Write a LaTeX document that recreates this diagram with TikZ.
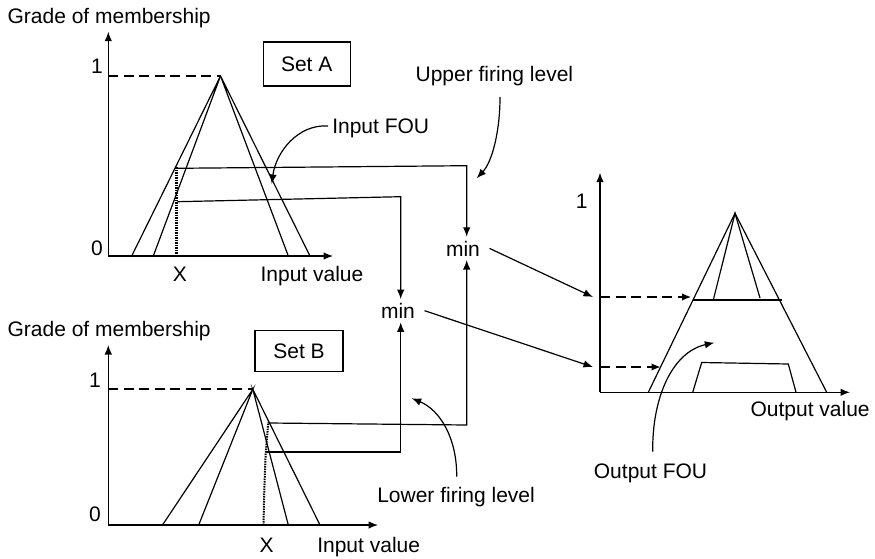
\documentclass[tikz,border=0pt]{standalone}
\usepackage{fontspec}
\setmainfont{Liberation Sans}
\usetikzlibrary{arrows.meta}
\begin{document}
\begin{tikzpicture}[x=1pt,y=-1pt,line width=1.2pt,
  every node/.style={font=\fontsize{21}{25}\selectfont,inner sep=0pt},
  tip/.style={-{Latex[length=9.5pt,width=7.5pt]}},
  lvl/.style={dash pattern=on 10pt off 5.5pt,line width=2.2pt},
  xmark/.style={dash pattern=on 1.5pt off 1pt,line width=2.6pt},
  setbox/.style={draw,line width=1.2pt,anchor=center},
  opnode/.style={anchor=base,outer ysep=4pt},
  lbl/.style={anchor=base west},
  num/.style={anchor=base}]
\useasboundingbox (0,0) rectangle (875,559);

% ---------- Set A ----------
\node[lbl] (gradeA) at (7,23.3) {Grade of membership};
\coordinate (A0) at (108.3,256);
\coordinate (Ay) at (108.3,31.7);
\coordinate (Ax) at (333,256);
\draw[tip] (A0) -- (Ay);
\draw[tip] (A0) -- (Ax);
\node[num] (oneA) at (97,74) {1};
\node[num] (zeroA) at (97,255) {0};
\node[num] (xA) at (180,281) {X};
\node[lbl] (inA) at (260,281) {Input value};
\node[setbox,minimum width=87pt,minimum height=44pt] (setA) at (306.7,64) {Set A};
\coordinate (A1) at (108.3,76);
\coordinate (Apk) at (220.5,76);
\draw[lvl] (A1) -- (Apk);
\draw (131.7,256) -- (Apk) -- (153.3,256);
\draw (288.3,256) -- (Apk) -- (310,256);
\draw[xmark] (176.7,256) -- (176.7,167);

% ---------- Set B ----------
\node[lbl] (gradeB) at (7,336.7) {Grade of membership};
\coordinate (B0) at (108.3,525);
\coordinate (By) at (108.3,345);
\coordinate (Bx) at (378,525);
\draw[tip] (B0) -- (By);
\draw[tip] (B0) -- (Bx);
\node[num] (oneB) at (95,387.3) {1};
\node[num] (zeroB) at (95,521.7) {0};
\node[num] (xB) at (266.7,552.3) {X};
\node[lbl] (inB) at (316.7,552.3) {Input value};
\node[setbox,minimum width=88pt,minimum height=41pt] (setB) at (299,351.3) {Set B};
\coordinate (B1) at (108.3,389.3);
\coordinate (Bpk) at (252.8,389.3);
\draw[lvl] (B1) -- (Bpk);
\draw (162.5,525) -- (Bpk) -- (198.7,525);
\draw (288.3,525) -- (Bpk) -- (320,525);
\draw[xmark,line width=2pt] (263.5,525) -- (264.3,490) -- (265.6,455) -- (268.3,422);

% ---------- min operators ----------
\node[opnode] (minU) at (463,256) {min};
\node[opnode] (minL) at (398,318.3) {min};

% firing levels of set A
\coordinate (aU) at (176.7,168.3);
\coordinate (uTurn) at (466.7,165.7);
\coordinate (aL) at (177.5,201.7);
\coordinate (lTurn) at (400.7,196.7);
\draw[tip] (aU) -- (uTurn) -- (uTurn |- minU.north);
\draw[tip] (aL) -- (lTurn) -- (lTurn |- minL.north);

% firing levels of set B
\coordinate (bU) at (268.3,423);
\coordinate (uRise) at (466.7,425);
\coordinate (bL) at (266,452);
\coordinate (lRise) at (400.7,452);
\draw[tip] (bU) -- (uRise) -- (uRise |- minU.south);
\draw[tip] (bL) -- (lRise) -- (lRise |- minL.south);

% ---------- Output ----------
\coordinate (O0) at (600,392.3);
\coordinate (Oy) at (600,172.7);
\coordinate (Ox) at (850,392.3);
\draw[tip] (O0) -- (Oy);
\draw[tip] (O0) -- (Ox);
\node[num] (oneO) at (581.7,208.3) {1};
\node[lbl] (outV) at (750,416.7) {Output value};
\coordinate (Opk) at (735,213.3);
\draw (648.3,392.3) -- (Opk) -- (826.7,392.3);
\draw (693.3,300) -- (781.7,300);
\draw (713.3,300) -- (Opk) -- (760,298);
\draw (692.7,392.3) -- (701.7,362.5) -- (788.3,364) -- (796,392.3);

\coordinate (oU) at (600,297);
\coordinate (oUend) at (691.5,297);
\coordinate (oL) at (600,367);
\coordinate (oLend) at (661,367);
\draw[lvl,tip] (oU) -- (oUend);
\draw[lvl,tip] (oL) -- (oLend);
\draw[tip] ([xshift=9pt]minU.east) -- ([xshift=-7pt]oU);
\draw[tip] ([xshift=9pt]minL.east) -- ([xshift=-7pt]oL);

% ---------- annotations ----------
\node[lbl] (fouIn) at (331.7,134) {Input FOU};
\draw[tip] (328,126) .. controls (298,124) and (276,152) .. (271.7,184);
\node[lbl] (upper) at (415,81.7) {Upper firing level};
\draw[tip] (500,97) .. controls (500,132) and (492,162) .. (476.7,178.3);
\node[lbl] (lower) at (376.7,502.7) {Lower firing level};
\draw[tip] (456.7,476.7) .. controls (457,438) and (440,410) .. (411.7,398.3);
\node[lbl] (fouOut) at (593.3,478.3) {Output FOU};
\draw[tip] (652.7,451.7) .. controls (652,398) and (672,352) .. (714.3,342.7);
\end{tikzpicture}
\end{document}
